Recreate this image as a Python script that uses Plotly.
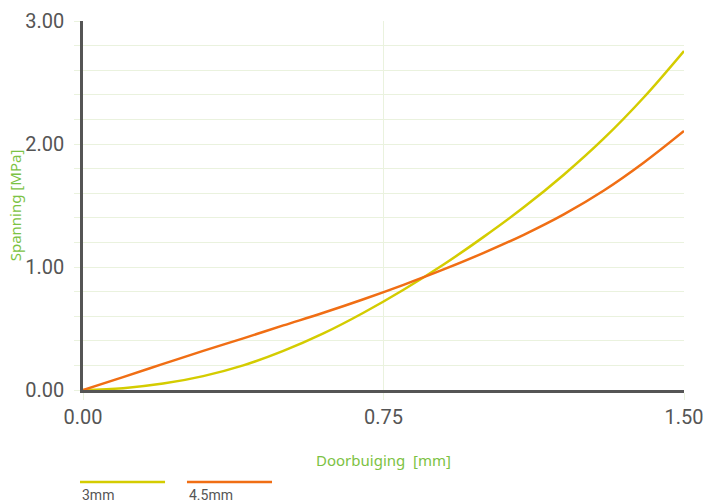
import plotly.graph_objects as go

# ---- data ----
deflection = [0.0, 0.1, 0.2, 0.3, 0.4, 0.5, 0.6, 0.7, 0.8, 0.9, 1.0, 1.1, 1.2, 1.3, 1.4, 1.5]
stress_3mm = [0.0, 0.015, 0.052, 0.113, 0.2, 0.318, 0.46, 0.628, 0.815, 1.02, 1.245, 1.485, 1.75, 2.045, 2.38, 2.756]
stress_45mm = [0.0, 0.105, 0.212, 0.318, 0.42, 0.525, 0.628, 0.738, 0.855, 0.98, 1.115, 1.262, 1.428, 1.622, 1.85, 2.106]
series_names = ["3mm", "4.5mm"]
x_tickvals = [0, 0.75, 1.5]
x_ticktext = ["0.00", "0.75", "1.50"]
y_tickvals = [0, 1, 2, 3]
y_ticktext = ["0.00", "1.00", "2.00", "3.00"]
x_title = "Doorbuiging\u00a0 [mm]"
y_title = "Spanning [MPa]"

colors = ["#d4cc00", "#f06e14"]
grid = "#eaf2de"
axis_c = "#555555"
green = "#7cc243"

W, H = 707, 503

fig = go.Figure()
for name, ys, c in zip(series_names, [stress_3mm, stress_45mm], colors):
    fig.add_trace(go.Scatter(x=deflection, y=ys, mode="lines", name=name,
                             line=dict(color=c, width=2.5, shape="spline", smoothing=1.0),
                             showlegend=False, hoverinfo="skip"))

fig.update_layout(
    width=W, height=H,
    margin=dict(l=83, r=23, t=21, b=113),
    plot_bgcolor="white", paper_bgcolor="white",
    font=dict(family="Roboto", color=axis_c),
)
fig.update_xaxes(
    range=[0, 1.5], tickvals=x_tickvals, ticktext=x_ticktext,
    showgrid=True, gridcolor=grid, gridwidth=1,
    showline=True, linecolor=axis_c, linewidth=2.5,
    ticks="outside", ticklen=7, tickcolor=grid, tickwidth=1,
    tickfont=dict(size=20, color=axis_c, family="Roboto"),
    zeroline=False, automargin=False,
    title=dict(text=x_title, font=dict(size=15, color=green, family="Noto Sans"), standoff=28),
)
fig.update_yaxes(
    range=[0, 3], tickvals=y_tickvals, ticktext=y_ticktext,
    showgrid=True, gridcolor=grid, gridwidth=1,
    minor=dict(dtick=0.2, showgrid=True, gridcolor=grid, ticks="outside", ticklen=6, tickcolor=grid),
    showline=True, linecolor=axis_c, linewidth=2.5,
    ticks="outside", ticklen=6, tickcolor=grid, tickwidth=1,
    ticklabelstandoff=6,
    tickfont=dict(size=20, color=axis_c, family="Roboto"),
    zeroline=False, automargin=False,
    title=dict(text=y_title, font=dict(size=15, color=green, family="Noto Sans"), standoff=0),
)

# origin cross (axis line overshoot)
fig.add_shape(type="line", xref="x", yref="y", xsizemode="pixel", xanchor=0,
              x0=-6, x1=0, y0=0, y1=0, line=dict(color=axis_c, width=2.5))
fig.add_shape(type="line", xref="x", yref="y", ysizemode="pixel", yanchor=0,
              x0=0, x1=0, y0=-7, y1=0, line=dict(color=axis_c, width=2.5))

# custom legend: line above, label below
leg_x = [-0.005, 0.173]
for name, c, lx in zip(series_names, colors, leg_x):
    fig.add_shape(type="line", xref="paper", yref="paper", x0=lx, x1=lx + 0.1415,
                  y0=-0.249, y1=-0.249, line=dict(color=c, width=2.5))
    fig.add_annotation(xref="paper", yref="paper", x=lx, y=-0.285, text=name,
                       showarrow=False, xanchor="left", yanchor="middle",
                       font=dict(size=14, color=axis_c, family="Roboto"))

fig.write_html("out.html", config={"displayModeBar": False},
               post_script="document.body.style.margin='0';document.body.style.overflow='hidden';")
